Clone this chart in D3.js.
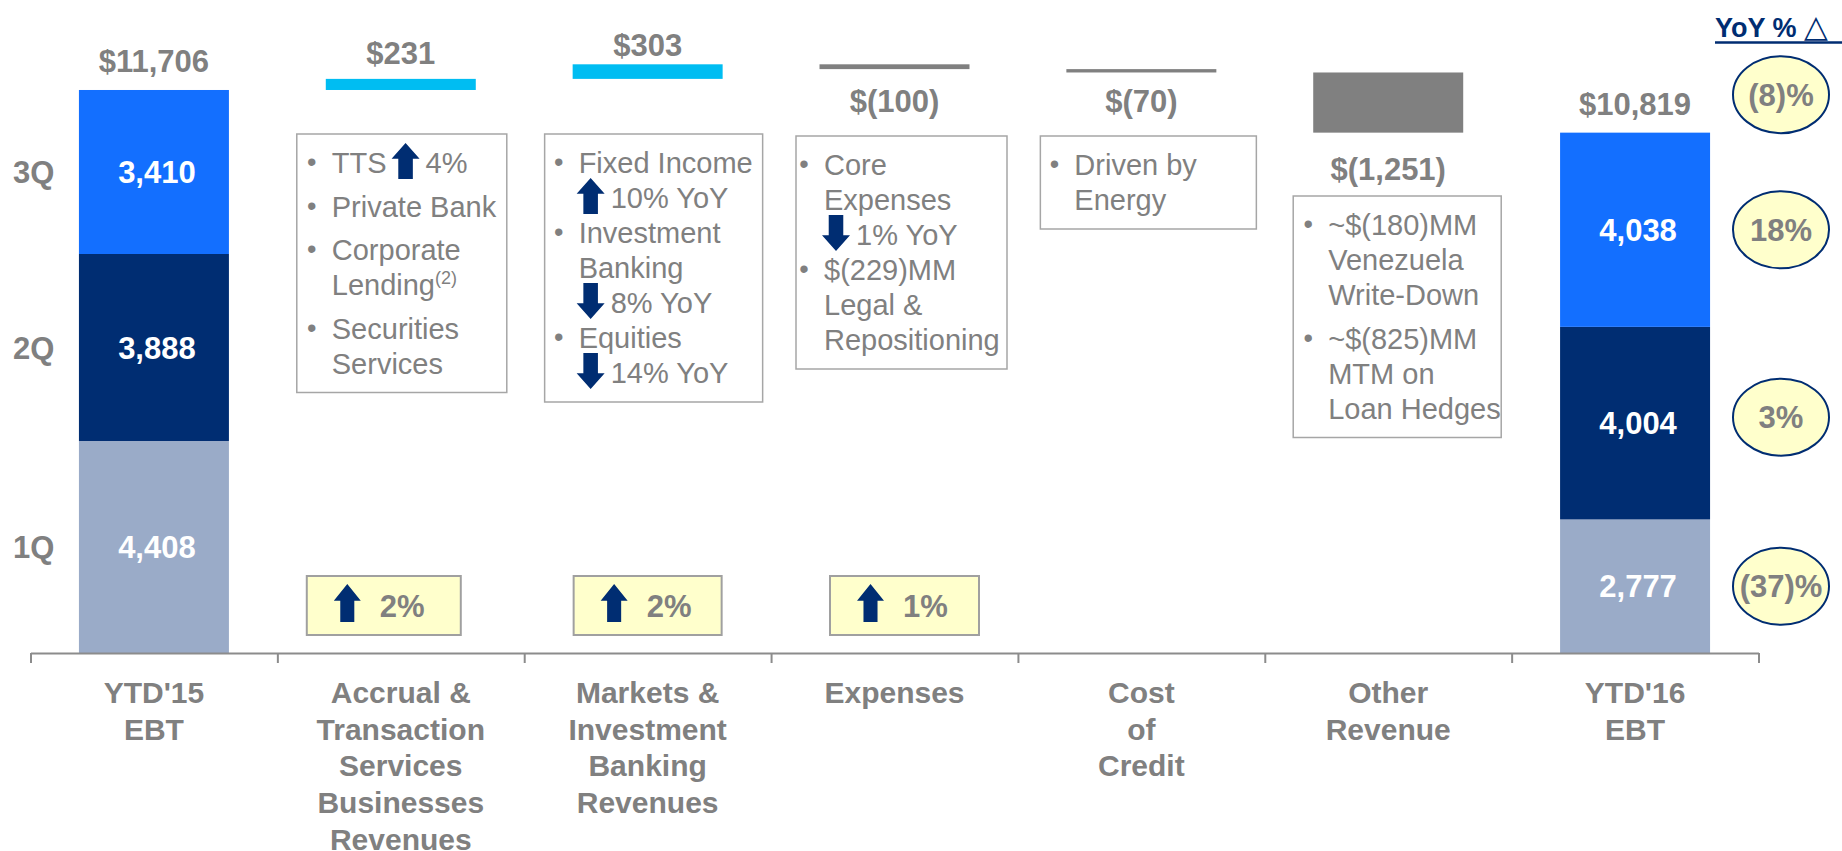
<!DOCTYPE html>
<html>
<head>
<meta charset="utf-8">
<script src="https://cdnjs.cloudflare.com/ajax/libs/d3/7.8.5/d3.min.js"></script>
<style>
  body { margin: 0; background: #fff; }
  svg { display: block; font-family: "Liberation Sans", Arial, sans-serif; }
</style>
</head>
<body>
<div id="chart"></div>
<script>
'use strict';

// data ($MM)
var categories = ["YTD'15 EBT", 'Accrual & Transaction Services Businesses Revenues',
  'Markets & Investment Banking Revenues', 'Expenses', 'Cost of Credit', 'Other Revenue', "YTD'16 EBT"];
var categoryLines = [
  ["YTD'15", 'EBT'],
  ['Accrual &', 'Transaction', 'Services', 'Businesses', 'Revenues'],
  ['Markets &', 'Investment', 'Banking', 'Revenues'],
  ['Expenses'],
  ['Cost', 'of', 'Credit'],
  ['Other', 'Revenue'],
  ["YTD'16", 'EBT']
];
var quarters = ['1Q', '2Q', '3Q'];
var ytd15 = [4408, 3888, 3410];
var ytd16 = [2777, 4004, 4038];
var changeValues = [231, 303, -100, -70, -1251];
var yoyLabels = ['(37)%', '3%', '18%'];
var yoyTotalLabel = '(8)%';
var growthCategories = [categories[1], categories[2], categories[3]];
var growthLabels = ['2%', '2%', '1%'];

// commentary boxes: bullets -> lines, {up}/{down} = arrow, ^(n) = footnote
var notes = [
  { category: categories[1], bullets: [['TTS {up} 4%'], ['Private Bank'], ['Corporate', 'Lending^(2)'], ['Securities', 'Services']] },
  { category: categories[2], bullets: [['Fixed Income', '{up} 10% YoY'], ['Investment', 'Banking', '{down} 8% YoY'], ['Equities', '{down} 14% YoY']] },
  { category: categories[3], bullets: [['Core', 'Expenses', '{down} 1% YoY'], ['$(229)MM', 'Legal &', 'Repositioning']] },
  { category: categories[4], bullets: [['Driven by', 'Energy']] },
  { category: categories[5], bullets: [['~$(180)MM', 'Venezuela', 'Write-Down'], ['~$(825)MM', 'MTM on', 'Loan Hedges']] }
];

var GRAY = '#808080';
var NAVY = '#002D72';
var quarterColors = { '1Q': '#9AABC8', '2Q': '#002D72', '3Q': '#136FFF' };

// layout tweaks (positions only)
var noteLayout = [
  { dx: 1, w: 210, top: 134, pad: 35, gap: 8.5 },
  { dx: 6, w: 218, top: 134, pad: 34, gap: 0 },
  { dx: 7, w: 211, top: 136, pad: 28, gap: 0 },
  { dx: 7, w: 216, top: 136, pad: 34, gap: 0 },
  { dx: 9, w: 208, top: 196, pad: 35, gap: 8.5 }
];
var growthLayout = [{ dx: -17, w: 154 }, { dx: 0, w: 148 }, { dx: 10, w: 149 }];
var changeLabelDy = [-15, -8, 43, 40, 47];

var fmt = d3.format(',');

function money(v) {
  return v < 0 ? '$(' + fmt(-v) + ')' : '$' + fmt(v);
}

function appendSvg(scope) {
  return d3.select(scope.div).append('svg')
    .attr('width', scope.width)
    .attr('height', scope.height);
}

function centerX(scope, cat) {
  return scope.x(cat) + scope.x.bandwidth() / 2;
}

function arrowPath(x, top, w, h, dir) {
  var hh = h * 0.44, sw = w * 0.52, cx = x + w / 2, b = top + h;
  if (dir === 'up') {
    return 'M' + cx + ',' + top + 'L' + (x + w) + ',' + (top + hh) + 'L' + (cx + sw / 2) + ',' + (top + hh) +
      'L' + (cx + sw / 2) + ',' + b + 'L' + (cx - sw / 2) + ',' + b + 'L' + (cx - sw / 2) + ',' + (top + hh) +
      'L' + x + ',' + (top + hh) + 'Z';
  }
  return 'M' + cx + ',' + b + 'L' + (x + w) + ',' + (b - hh) + 'L' + (cx + sw / 2) + ',' + (b - hh) +
    'L' + (cx + sw / 2) + ',' + top + 'L' + (cx - sw / 2) + ',' + top + 'L' + (cx - sw / 2) + ',' + (b - hh) +
    'L' + x + ',' + (b - hh) + 'Z';
}

function appendAxis(scope) {
  var tickScale = d3.scaleLinear()
    .domain([0, categories.length])
    .range(scope.x.range());

  var axis = scope.svg.append('g')
    .attr('transform', 'translate(0,' + scope.y(0) + ')')
    .call(d3.axisBottom(tickScale)
      .tickValues(d3.range(0, categories.length + 1))
      .tickSize(10)
      .tickSizeOuter(0)
      .tickFormat(''));
  axis.selectAll('path, line')
    .attr('stroke', '#8C8C8C')
    .attr('stroke-width', 2);

  var labels = scope.svg.append('g')
    .selectAll('text')
    .data(categories)
    .enter().append('text')
    .attr('text-anchor', 'middle')
    .attr('font-size', 30)
    .attr('font-weight', 'bold')
    .attr('fill', GRAY);

  labels.selectAll('tspan')
    .data(function(d, i) { return categoryLines[i]; })
    .enter().append('tspan')
    .attr('x', function() { return centerX(scope, d3.select(this.parentNode).datum()); })
    .attr('y', function(d, i) { return 703 + i * 36.7; })
    .text(function(d) { return d; });
}

function appendTotals(scope) {
  var rows = [
    { category: categories[0] },
    { category: categories[categories.length - 1] }
  ];
  quarters.forEach(function(q, i) {
    rows[0][q] = ytd15[i];
    rows[1][q] = ytd16[i];
  });
  var series = d3.stack().keys(quarters)(rows);
  scope.totalSeries = series;

  var segs = scope.svg.append('g')
    .selectAll('g')
    .data(series)
    .enter().append('g')
    .attr('fill', function(d) { return quarterColors[d.key]; })
    .selectAll('rect')
    .data(function(d) { return d; })
    .enter();

  segs.append('rect')
    .attr('x', function(d) { return scope.x(d.data.category); })
    .attr('y', function(d) { return scope.y(d[1]); })
    .attr('width', scope.x.bandwidth())
    .attr('height', function(d) { return scope.y(d[0]) - scope.y(d[1]); });

  segs.append('text')
    .attr('x', function(d) { return centerX(scope, d.data.category) + 3; })
    .attr('y', function(d) { return (scope.y(d[0]) + scope.y(d[1])) / 2; })
    .attr('dy', '0.36em')
    .attr('text-anchor', 'middle')
    .attr('font-size', 31)
    .attr('font-weight', 'bold')
    .attr('fill', '#fff')
    .text(function(d) { return fmt(d[1] - d[0]); });

  // quarter names beside the first bar
  scope.svg.append('g')
    .selectAll('text')
    .data(series)
    .enter().append('text')
    .attr('x', 13)
    .attr('y', function(d) { return (scope.y(d[0][0]) + scope.y(d[0][1])) / 2; })
    .attr('dy', '0.36em')
    .attr('font-size', 31)
    .attr('font-weight', 'bold')
    .attr('fill', GRAY)
    .text(function(d) { return d.key; });

  scope.svg.append('g')
    .selectAll('text')
    .data(rows)
    .enter().append('text')
    .attr('x', function(d) { return centerX(scope, d.category); })
    .attr('y', function(d) { return scope.y(d3.sum(quarters, function(q) { return d[q]; })) - 18; })
    .attr('text-anchor', 'middle')
    .attr('font-size', 31)
    .attr('font-weight', 'bold')
    .attr('fill', GRAY)
    .text(function(d) { return money(d3.sum(quarters, function(q) { return d[q]; })); });
}

function appendChanges(scope) {
  var running = d3.sum(ytd15);
  var steps = changeValues.map(function(v, i) {
    var s = { category: categories[i + 1], value: v, from: running, to: running + v };
    running += v;
    return s;
  });

  var g = scope.svg.append('g');
  g.selectAll('rect')
    .data(steps)
    .enter().append('rect')
    .attr('x', function(d) { return scope.x(d.category); })
    .attr('y', function(d) { return scope.y(Math.max(d.from, d.to)); })
    .attr('width', scope.x.bandwidth())
    .attr('height', function(d) { return Math.abs(scope.y(d.from) - scope.y(d.to)); })
    .attr('fill', function(d) { return d.value > 0 ? '#00BDF2' : GRAY; });

  // label sits above a rise, below a drop
  g.selectAll('text')
    .data(steps)
    .enter().append('text')
    .attr('x', function(d) { return centerX(scope, d.category); })
    .attr('y', function(d, i) { return scope.y(d.to) + changeLabelDy[i]; })
    .attr('text-anchor', 'middle')
    .attr('font-size', 31)
    .attr('font-weight', 'bold')
    .attr('fill', GRAY)
    .text(function(d) { return money(d.value); });
}

function drawRichLine(g, line, x, baseline) {
  var parts = line.split(/(\{up\}|\{down\})/).map(function(p) { return p.trim(); })
    .filter(function(p) { return p.length; });
  var cursor = x;
  parts.forEach(function(p, i) {
    if (p === '{up}' || p === '{down}') {
      var ax = i === 0 ? cursor - 2 : cursor + 5;
      g.append('path')
        .attr('d', arrowPath(ax, baseline - 30, 28, 36, p === '{up}' ? 'up' : 'down'))
        .attr('fill', NAVY);
      cursor = ax + 28 + 6;
      return;
    }
    var t = g.append('text')
      .attr('x', cursor)
      .attr('y', baseline)
      .attr('font-size', 29)
      .attr('fill', GRAY);
    var sup = p.match(/^(.*)\^(\(.*\))$/);
    if (sup) {
      t.append('tspan').text(sup[1]);
      t.append('tspan').attr('font-size', 18).attr('dy', -11).text(sup[2]);
    } else {
      t.text(p);
    }
    cursor += t.node().getComputedTextLength();
  });
}

function appendNotes(scope) {
  notes.forEach(function(note, i) {
    var lay = noteLayout[i];
    var left = centerX(scope, note.category) + lay.dx - lay.w / 2;
    var g = scope.svg.append('g');
    var box = g.append('rect')
      .attr('x', left)
      .attr('y', lay.top)
      .attr('width', lay.w)
      .attr('fill', '#fff')
      .attr('stroke', '#A6A6A6')
      .attr('stroke-width', 1.5);

    var yy = lay.top + 39;
    note.bullets.forEach(function(lines, bi) {
      if (bi > 0) yy += lay.gap;
      g.append('text')
        .attr('x', left + lay.pad - 20)
        .attr('y', yy - 2)
        .attr('text-anchor', 'middle')
        .attr('font-size', 27)
        .attr('fill', GRAY)
        .text('\u2022');
      lines.forEach(function(line) {
        drawRichLine(g, line, left + lay.pad, yy);
        yy += 35;
      });
    });
    box.attr('height', yy - 35 + 19 - lay.top);
  });
}

function appendGrowth(scope) {
  growthCategories.forEach(function(cat, i) {
    var lay = growthLayout[i];
    var left = centerX(scope, cat) + lay.dx - lay.w / 2;
    var g = scope.svg.append('g');
    g.append('rect')
      .attr('x', left)
      .attr('y', 576)
      .attr('width', lay.w)
      .attr('height', 59)
      .attr('fill', '#FFFFCC')
      .attr('stroke', '#A0A0A0')
      .attr('stroke-width', 2);
    g.append('path')
      .attr('d', arrowPath(left + 27, 584, 27, 38, 'up'))
      .attr('fill', NAVY);
    g.append('text')
      .attr('x', left + 73)
      .attr('y', 617)
      .attr('font-size', 31)
      .attr('font-weight', 'bold')
      .attr('fill', GRAY)
      .text(growthLabels[i]);
  });
}

function appendYoY(scope) {
  var cx = 1781;
  var items = scope.totalSeries.map(function(s, i) {
    return { label: yoyLabels[i], cy: (scope.y(s[1][0]) + scope.y(s[1][1])) / 2 + (i === 1 ? -6 : 0) };
  });
  items.push({ label: yoyTotalLabel, cy: scope.y(d3.sum(ytd16)) - 38 });

  var head = scope.svg.append('text')
    .attr('x', 1715)
    .attr('y', 37)
    .attr('font-size', 27)
    .attr('font-weight', 'bold')
    .attr('fill', NAVY);
  head.append('tspan').text('YoY % ');
  head.append('tspan')
    .attr('font-family', '"DejaVu Sans", sans-serif')
    .attr('font-weight', 'normal')
    .attr('font-size', 31)
    .text('\u25B3');
  scope.svg.append('line')
    .attr('x1', 1715).attr('x2', 1842)
    .attr('y1', 42.5).attr('y2', 42.5)
    .attr('stroke', NAVY)
    .attr('stroke-width', 2.5);

  var g = scope.svg.append('g')
    .selectAll('g')
    .data(items)
    .enter().append('g');
  g.append('ellipse')
    .attr('cx', cx)
    .attr('cy', function(d) { return d.cy; })
    .attr('rx', 48)
    .attr('ry', 38.5)
    .attr('fill', '#FFFFCC')
    .attr('stroke', NAVY)
    .attr('stroke-width', 2);
  g.append('text')
    .attr('x', cx)
    .attr('y', function(d) { return d.cy; })
    .attr('dy', '0.36em')
    .attr('text-anchor', 'middle')
    .attr('font-size', 31)
    .attr('font-weight', 'bold')
    .attr('fill', GRAY)
    .text(function(d) { return d.label; });
}

function waterfall() {
  var scope = {};
  scope.div = '#chart';
  scope.width = 1842;
  scope.height = 851;

  scope.x = d3.scaleBand()
    .domain(categories)
    .range([30.5, 1758.5])
    .paddingInner(0.3924)
    .paddingOuter(0.1962);
  scope.y = d3.scaleLinear()
    .domain([0, 13577])
    .range([653, 0]);

  scope.svg = appendSvg(scope);
  appendTotals(scope);
  appendChanges(scope);
  appendAxis(scope);
  appendNotes(scope);
  appendGrowth(scope);
  appendYoY(scope);
}

waterfall();
</script>
</body>
</html>
